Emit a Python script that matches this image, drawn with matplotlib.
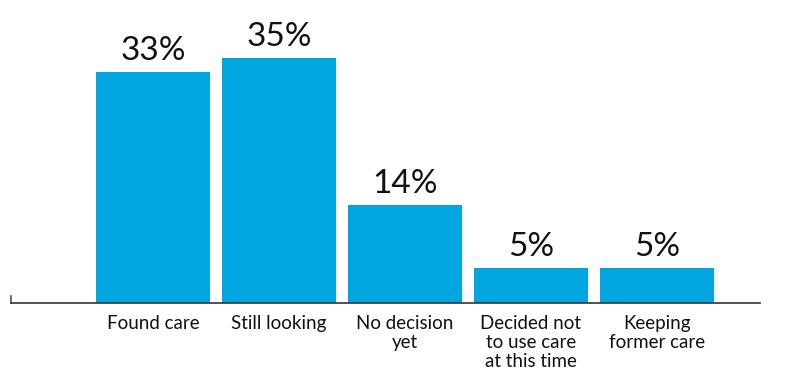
import matplotlib.pyplot as plt

categories = ["Found care", "Still looking", "No decision\nyet",
              "Decided not\nto use care\nat this time", "Keeping\nformer care"]
values = [33, 35, 14, 5, 5]

bar_color = "#00A6DF"

fig = plt.figure(figsize=(7.96, 3.75), dpi=100)
ax = fig.add_axes([11 / 796, 72 / 375, 749 / 796, 280 / 375])

x = list(range(len(categories)))
bars = ax.bar(x, values, width=114 / 126, color=bar_color)

ax.set_xlim(-142 / 126, 4 + 103 / 126)
ax.set_ylim(0, 40)

for xi, v in zip(x, values):
    ax.text(xi, v + 0.9, f"{v}%", ha="center", va="bottom",
            fontsize=24, family="Lato", color="#111111")

for xi, lab in zip(x, categories):
    ax.text(xi, -1.7, lab, ha="center", va="top", fontsize=13.5,
            family="Lato", color="#111111", linespacing=1.15)

for s in ["top", "right"]:
    ax.spines[s].set_visible(False)
ax.spines["bottom"].set_color("#333333")
ax.spines["bottom"].set_linewidth(1.2)
ax.spines["left"].set_color("#555555")
ax.spines["left"].set_linewidth(1.2)
ax.spines["left"].set_bounds(0, 1)
ax.set_xticks([])
ax.set_yticks([])

fig.savefig("out.png", dpi=100)
